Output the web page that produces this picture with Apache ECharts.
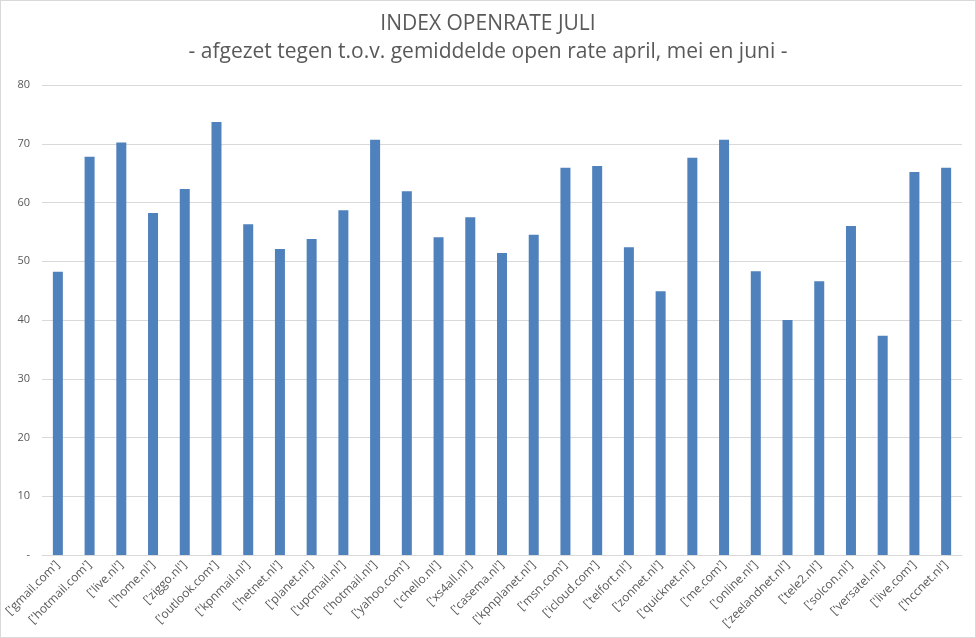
<!DOCTYPE html>
<html>
<head>
<meta charset="utf-8">
<script src="https://cdn.jsdelivr.net/npm/echarts@6/dist/echarts.min.js"></script>
<style>
html,body{margin:0;padding:0;background:#fff;}
#c{width:976px;height:638px;box-sizing:border-box;border:1px solid #d9d9d9;}
</style>
</head>
<body>
<div id="c"></div>
<script>
var categories = ["['gmail.com']","['hotmail.com']","['live.nl']","['home.nl']","['ziggo.nl']","['outlook.com']","['kpnmail.nl']","['hetnet.nl']","['planet.nl']","['upcmail.nl']","['hotmail.nl']","['yahoo.com']","['chello.nl']","['xs4all.nl']","['casema.nl']","['kpnplanet.nl']","['msn.com']","['icloud.com']","['telfort.nl']","['zonnet.nl']","['quicknet.nl']","['me.com']","['online.nl']","['zeelandnet.nl']","['tele2.nl']","['solcon.nl']","['versatel.nl']","['live.com']","['hccnet.nl']"];
var values = [48.2,67.8,70.2,58.2,62.3,73.7,56.3,52.1,53.8,58.7,70.7,61.9,54.1,57.5,51.4,54.5,65.9,66.2,52.4,44.9,67.6,70.7,48.3,40.0,46.6,56.0,37.3,65.2,65.9];
var titleText = "INDEX OPENRATE JULI";
var subtitleText = "- afgezet tegen t.o.v. gemiddelde open rate april, mei en juni -";

var chart = echarts.init(document.getElementById('c'));
var font = 'Open Sans';
chart.setOption({
  animation: false,
  title: [
    {text: titleText, left: 'center', top: 8, textStyle: {fontFamily: font, fontSize: 21, fontWeight: 'normal', color: '#595959'}},
    {text: subtitleText, left: 'center', top: 36, textStyle: {fontFamily: font, fontSize: 21, fontWeight: 'normal', color: '#595959'}}
  ],
  grid: {left: 41, right: 13, top: 84, bottom: 82, containLabel: false},
  xAxis: {
    type: 'category',
    data: categories,
    axisLine: {lineStyle: {color: '#d9d9d9'}},
    axisTick: {show: false},
    axisLabel: {rotate: 45, interval: 0, color: '#595959', fontFamily: font, fontSize: 12, margin: 8}
  },
  yAxis: {
    type: 'value',
    min: 0, max: 80, interval: 10,
    axisLine: {show: false},
    axisTick: {show: false},
    splitLine: {lineStyle: {color: '#d9d9d9'}},
    axisLabel: {color: '#595959', fontFamily: font, fontSize: 11, margin: 12,
      formatter: function(v){ return v === 0 ? '-' : v; }}
  },
  series: [{
    type: 'bar',
    data: values,
    barWidth: 10,
    itemStyle: {color: '#4f81bd'}
  }]
});
</script>
</body>
</html>
